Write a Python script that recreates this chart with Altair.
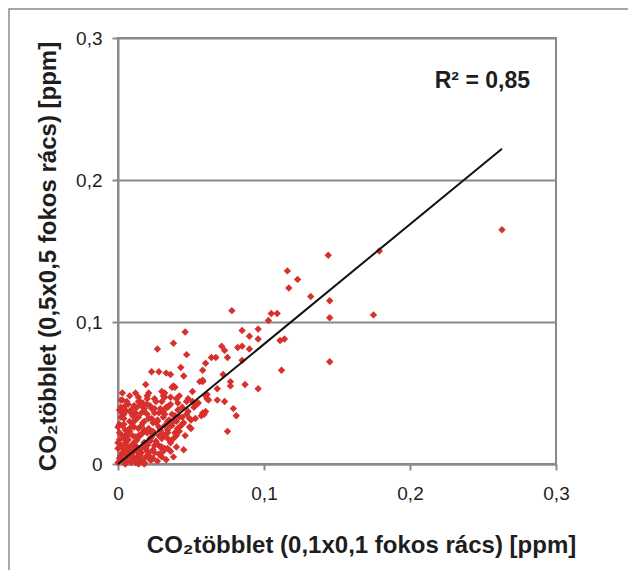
import altair as alt
import pandas as pd

# CO2 excess on the 0.1x0.1 degree grid (x) vs 0.5x0.5 degree grid (y), ppm
x_fine = [
    0.263, 0.179, 0.144, 0.116, 0.123, 0.117, 0.132, 0.145, 0.078, 0.105,
    0.109, 0.103, 0.145, 0.175, 0.096, 0.085, 0.046, 0.090, 0.038, 0.096,
    0.111, 0.114, 0.027, 0.071, 0.082, 0.085, 0.073, 0.090, 0.047, 0.064,
    0.067, 0.075, 0.085, 0.060, 0.043, 0.023, 0.028, 0.033, 0.036, 0.045,
    0.072, 0.058, 0.112, 0.145, 0.056, 0.058, 0.038, 0.039, 0.019, 0.077,
    0.077, 0.087, 0.096, 0.068, 0.061, 0.051, 0.012, 0.021, 0.030, 0.032,
    0.031, 0.040, 0.060, 0.068, 0.061, 0.015, 0.047, 0.073, 0.051, 0.036,
    0.041, 0.079, 0.059, 0.057, 0.081, 0.005, 0.075, 0.045, 0.022, 0.037,
    0.036, 0.034, 0.041, 0.048, 0.058, 0.037, 0.044, 0.049, 0.053, 0.040,
    0.045, 0.049, 0.036, 0.041, 0.034, 0.042, 0.038, 0.040, 0.034, 0.005,
    0.014, 0.012, 0.018, 0.025, 0.030, 0.032, 0.032, 0.023, 0.003, 0.010,
    0.016, 0.021, 0.028, 0.034, 0.001, 0.008, 0.014, 0.023, 0.030, 0.035,
    0.000, 0.005, 0.012, 0.018, 0.025, 0.032, 0.025, 0.030, 0.000, 0.003,
    0.010, 0.016, 0.021, 0.001, 0.006, 0.012, 0.018, 0.023, 0.000, 0.005,
    0.014, 0.018, 0.002, 0.004, 0.007, 0.009, 0.011, 0.013, 0.015, 0.017,
    0.019, 0.020, 0.022, 0.024, 0.026, 0.027, 0.029, 0.031, 0.006, 0.008,
    0.010, 0.004, 0.002, 0.012, 0.007, 0.003, 0.016, 0.020, 0.024, 0.018,
    0.014, 0.010, 0.001, 0.006, 0.028, 0.033, 0.038, 0.036, 0.040, 0.043,
    0.046, 0.050, 0.052, 0.055, 0.048, 0.044, 0.042, 0.025, 0.022, 0.020,
    0.028, 0.031, 0.034, 0.037, 0.039, 0.035, 0.009, 0.013, 0.016, 0.020,
    0.024, 0.027, 0.031, 0.005, 0.001, 0.003, 0.008, 0.054, 0.062, 0.058,
    0.060,
    # dense core near the origin
    0.001, 0.002, 0.003, 0.004, 0.005, 0.006, 0.007, 0.008, 0.009, 0.010,
    0.011, 0.012, 0.013, 0.014, 0.015, 0.016, 0.017, 0.018, 0.019, 0.020,
    0.002, 0.004, 0.006, 0.008, 0.010, 0.012, 0.014, 0.016, 0.018, 0.020,
    0.022, 0.024, 0.026, 0.028, 0.003, 0.005, 0.007, 0.009, 0.011, 0.013,
    0.015, 0.017, 0.019, 0.021, 0.023, 0.025, 0.027, 0.029, 0.031, 0.033,
    0.001, 0.003, 0.006, 0.009, 0.012, 0.015, 0.018, 0.021, 0.024, 0.027,
    0.030, 0.033, 0.036, 0.039, 0.042, 0.002, 0.004, 0.007, 0.010, 0.013,
    0.000, 0.001, 0.002, 0.004, 0.006, 0.008, 0.011, 0.014, 0.017, 0.020,
    0.023, 0.026, 0.029, 0.032, 0.035, 0.038, 0.041, 0.044, 0.047, 0.050,
]
y_coarse = [
    0.165, 0.150, 0.147, 0.136, 0.130, 0.124, 0.118, 0.115, 0.108, 0.106,
    0.106, 0.101, 0.103, 0.105, 0.095, 0.094, 0.093, 0.090, 0.085, 0.088,
    0.087, 0.088, 0.081, 0.083, 0.082, 0.083, 0.080, 0.081, 0.077, 0.075,
    0.075, 0.075, 0.073, 0.071, 0.068, 0.065, 0.065, 0.064, 0.063, 0.062,
    0.063, 0.066, 0.066, 0.072, 0.058, 0.058, 0.055, 0.054, 0.056, 0.058,
    0.055, 0.056, 0.053, 0.053, 0.049, 0.051, 0.050, 0.050, 0.051, 0.050,
    0.048, 0.046, 0.048, 0.045, 0.046, 0.044, 0.044, 0.044, 0.044, 0.042,
    0.043, 0.039, 0.035, 0.034, 0.034, 0.037, 0.023, 0.010, 0.003, 0.054,
    0.047, 0.040, 0.038, 0.037, 0.036, 0.035, 0.033, 0.032, 0.032, 0.030,
    0.029, 0.026, 0.027, 0.025, 0.022, 0.023, 0.018, 0.012, 0.011, 0.038,
    0.044, 0.036, 0.037, 0.039, 0.044, 0.047, 0.035, 0.032, 0.027, 0.029,
    0.027, 0.025, 0.026, 0.024, 0.022, 0.023, 0.020, 0.019, 0.018, 0.017,
    0.015, 0.015, 0.013, 0.015, 0.013, 0.011, 0.008, 0.005, 0.011, 0.008,
    0.008, 0.008, 0.008, 0.004, 0.003, 0.001, 0.001, 0.003, 0.001, 0.000,
    0.000, 0.000, 0.005, 0.010, 0.006, 0.012, 0.004, 0.017, 0.010, 0.022,
    0.005, 0.013, 0.018, 0.021, 0.016, 0.030, 0.012, 0.021, 0.019, 0.030,
    0.034, 0.028, 0.033, 0.040, 0.042, 0.045, 0.041, 0.035, 0.029, 0.030,
    0.025, 0.020, 0.017, 0.013, 0.007, 0.003, 0.005, 0.009, 0.020, 0.027,
    0.020, 0.025, 0.040, 0.043, 0.046, 0.040, 0.048, 0.046, 0.041, 0.048,
    0.036, 0.033, 0.030, 0.027, 0.034, 0.041, 0.001, 0.005, 0.003, 0.009,
    0.004, 0.002, 0.009, 0.024, 0.038, 0.050, 0.048, 0.042, 0.045, 0.059,
    0.037,
    # dense core near the origin
    0.002, 0.006, 0.003, 0.007, 0.002, 0.009, 0.005, 0.011, 0.007, 0.014,
    0.009, 0.016, 0.011, 0.019, 0.007, 0.021, 0.012, 0.024, 0.014, 0.022,
    0.013, 0.018, 0.021, 0.025, 0.027, 0.031, 0.033, 0.036, 0.039, 0.042,
    0.016, 0.023, 0.029, 0.020, 0.036, 0.041, 0.017, 0.038, 0.026, 0.040,
    0.006, 0.029, 0.011, 0.032, 0.023, 0.036, 0.031, 0.039, 0.037, 0.040,
    0.028, 0.020, 0.016, 0.005, 0.019, 0.003, 0.015, 0.006, 0.010, 0.014,
    0.012, 0.019, 0.015, 0.022, 0.033, 0.045, 0.035, 0.024, 0.002, 0.009,
    0.026, 0.012, 0.040, 0.032, 0.044, 0.037, 0.041, 0.047, 0.043, 0.046,
    0.039, 0.044, 0.024, 0.027, 0.031, 0.030, 0.025, 0.028, 0.035, 0.031,
]

# trend line endpoints
fit_x = [0.0, 0.263]
fit_y = [0.0, 0.222]

tick_values = [0, 0.1, 0.2, 0.3]
r2_label = ["R² = 0,85"]

pts = pd.DataFrame({"x": x_fine, "y": y_coarse})
fit = pd.DataFrame({"x": fit_x, "y": fit_y})
lab = pd.DataFrame({"t": r2_label})

FONT = "Liberation Sans"
GRAY = "#8a8a8a"
TXT = "#1e1e1e"
label_expr = "datum.value == 0 ? '0' : replace(format(datum.value, '.1f'), '.', ',')"

xscale = alt.Scale(domain=[0, 0.3], nice=False)
yscale = alt.Scale(domain=[0, 0.3], nice=False)

x_axis = alt.Axis(
    values=tick_values, labelExpr=label_expr, grid=False, labelFlush=False,
    domainColor=GRAY, domainWidth=2, tickColor=GRAY, tickWidth=2, tickSize=6,
    labelFont=FONT, labelFontSize=19, labelColor=TXT, labelPadding=14,
    title="CO₂többlet (0,1x0,1 fokos rács) [ppm]", titleFont=FONT,
    titleFontSize=24, titleFontWeight="bold", titleColor=TXT,
    titleX=243, titleY=88, titleAlign="center", titleBaseline="alphabetic",
)
y_axis = alt.Axis(
    values=tick_values, labelExpr=label_expr, grid=True, labelFlush=False,
    gridColor=GRAY, gridWidth=2,
    domainColor=GRAY, domainWidth=2, tickColor=GRAY, tickWidth=2, tickSize=6,
    labelFont=FONT, labelFontSize=19, labelColor=TXT, labelPadding=10,
    title="CO₂többlet (0,5x0,5 fokos rács) [ppm]", titleFont=FONT,
    titleFontSize=24, titleFontWeight="bold", titleColor=TXT,
    titleX=-70, titleY=218, titleAlign="center", titleBaseline="middle",
    titleAngle=270,
)

frame = alt.Chart(lab).mark_rect(
    fill=None, stroke=GRAY, strokeWidth=1.5, clip=False
).encode(
    x=alt.value(-109), x2=alt.value(700), y=alt.value(-29), y2=alt.value(700)
)

points = alt.Chart(pts).mark_point(
    shape="diamond", filled=True, size=55, color="#d8302c", opacity=1
).encode(
    x=alt.X("x:Q", scale=xscale, axis=x_axis),
    y=alt.Y("y:Q", scale=yscale, axis=y_axis),
)

line = alt.Chart(fit).mark_line(color="#111111", strokeWidth=2).encode(
    x=alt.X("x:Q", scale=xscale),
    y=alt.Y("y:Q", scale=yscale),
)

r2 = alt.Chart(lab).mark_text(
    font=FONT, fontSize=23, fontWeight="bold", color=TXT,
    align="right", baseline="alphabetic"
).encode(x=alt.value(412), y=alt.value(50), text="t:N")

chart = alt.layer(frame, points, line, r2).properties(
    width=438, height=426,
    autosize=alt.AutoSizeParams(type="none"),
    padding={"left": 118, "top": 38, "right": 72, "bottom": 106},
    background="white",
).configure_view(stroke=GRAY, strokeWidth=2)

chart.save("out.html", embed_options={"renderer": "svg", "actions": False})
